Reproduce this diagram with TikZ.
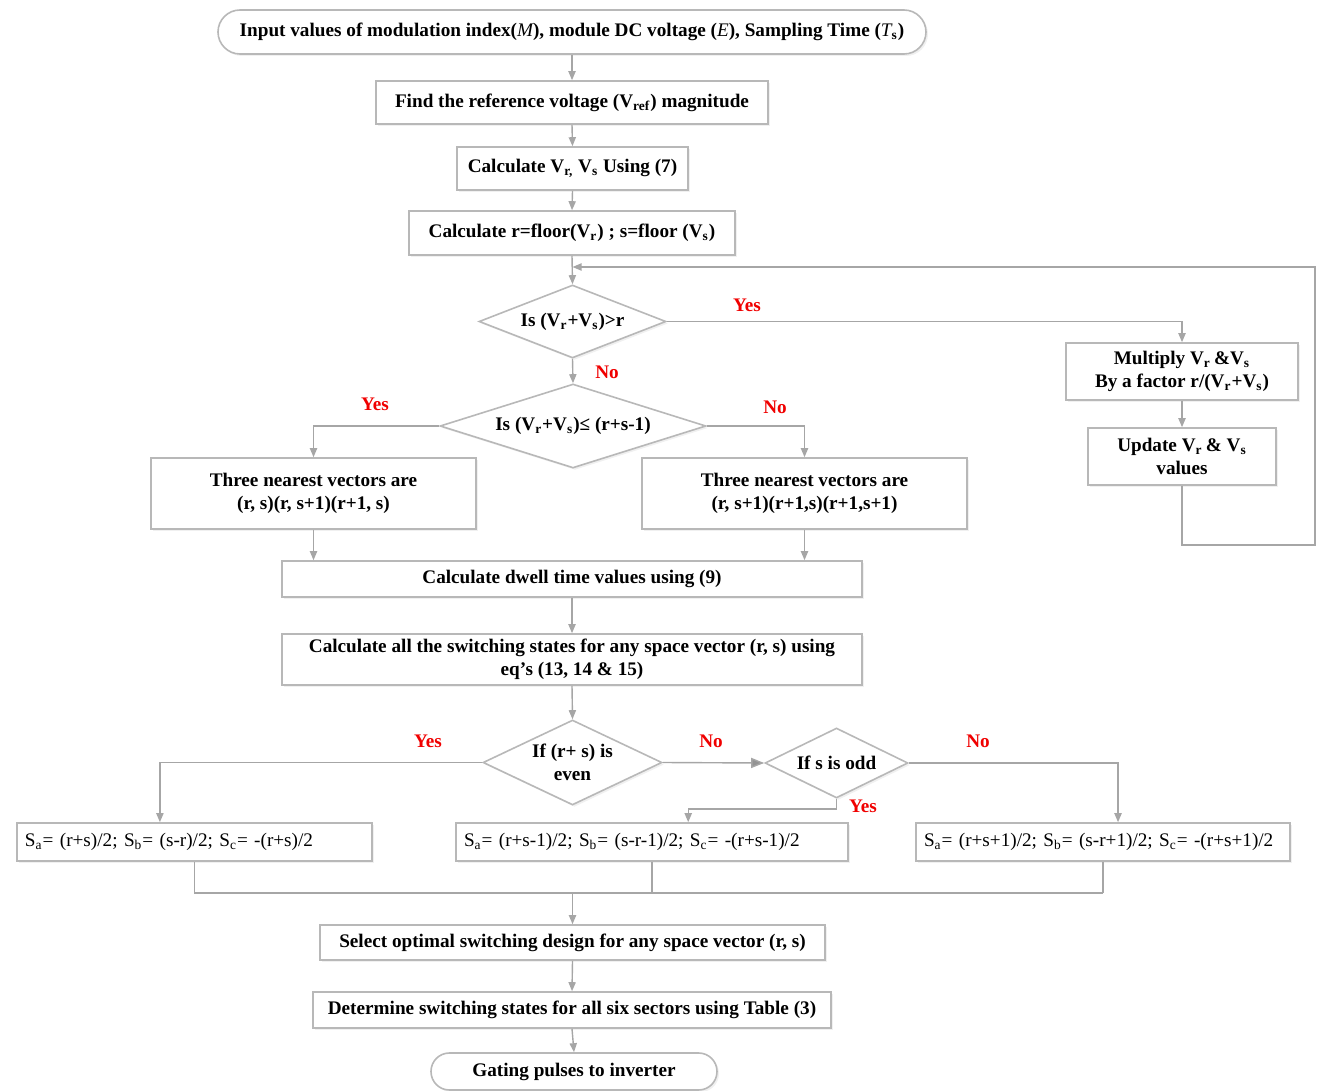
\documentclass[tikz,border=0pt]{standalone}
\usepackage{fontspec}
\setmainfont{Liberation Serif}
\usetikzlibrary{shapes.geometric,arrows.meta,calc,shadows}
\definecolor{lineg}{HTML}{A6A6A6}
\definecolor{boxg}{HTML}{B8B8B8}
\definecolor{lblred}{HTML}{F00000}
\begin{document}
\begin{tikzpicture}[x=0.5pt,y=-0.5pt,
  txt/.style={font=\fontsize{9.6}{11.5}\selectfont\bfseries, text=black},
  shd/.style={drop shadow={opacity=0.12,shadow xshift=1pt,shadow yshift=-1pt}},
  procbox/.style={txt, draw=boxg, line width=0.8pt, fill=white, align=center, inner sep=0pt, shd},
  term/.style={procbox, rounded corners=#1},
  dec/.style={txt, draw=boxg, line width=0.8pt, fill=white, align=center, inner sep=0pt, diamond, shd},
  eqbox/.style={draw=boxg, line width=0.8pt, fill=white, align=left, inner xsep=4pt, inner ysep=0pt, shd,
     font=\fontsize{9.6}{11.5}\selectfont, text=black},
  ln/.style={draw=lineg, line width=0.7pt},
  arr/.style={-{Triangle[length=4.5pt,width=3.6pt,fill=lineg]}},
  bigarr/.style={-{Triangle[length=6.5pt,width=5pt,fill=gray!85]}},
  lbl/.style={font=\fontsize{9.6}{11.5}\selectfont\bfseries, text=lblred, inner sep=0pt}
]
\useasboundingbox (0,0) rectangle (1317,1091);

% nodes
\node[term=11pt, minimum width=354pt, minimum height=22pt] (start) at (572,32)
  {Input values of modulation index({\mdseries\itshape M}), module DC voltage ({\mdseries\itshape E}), Sampling Time ({\mdseries\itshape T}\textsubscript{s})};
\node[procbox, minimum width=196pt, minimum height=21.5pt] (b1) at (572,102.5)
  {Find the reference voltage (V\textsubscript{ref}) magnitude};
\node[procbox, minimum width=115.5pt, minimum height=21.5pt] (b2) at (572.5,168.5)
  {Calculate V\textsubscript{r,} V\textsubscript{s} Using (7)};
\node[procbox, minimum width=163pt, minimum height=22pt] (b3) at (572,233)
  {Calculate r=floor(V\textsubscript{r}) ; s=floor (V\textsubscript{s})};
\node[dec, minimum width=93.5pt, minimum height=36.5pt, aspect=2.56] (d1) at (572.5,321.5)
  {Is (V\textsubscript{r}+V\textsubscript{s})>r};
\node[procbox, minimum width=116pt, minimum height=28.5pt] (mult) at (1182,371.5)
  {Multiply V\textsubscript{r}\,\&V\textsubscript{s}\\By a factor r/(V\textsubscript{r}+V\textsubscript{s})};
\node[procbox, minimum width=94pt, minimum height=28.5pt] (upd) at (1182,456.5)
  {Update V\textsubscript{r}\,\& V\textsubscript{s}\\values};
\node[dec, minimum width=133pt, minimum height=42pt, aspect=3.17] (d2) at (573,426)
  {Is (V\textsubscript{r}+V\textsubscript{s})≤ (r+s-1)};
\node[procbox, minimum width=162.5pt, minimum height=35.5pt] (lbox) at (313.5,493.5)
  {Three nearest vectors are\\(r, s)(r, s+1)(r+1, s)};
\node[procbox, minimum width=162.5pt, minimum height=35.5pt] (rbox) at (804.5,493.5)
  {Three nearest vectors are\\(r, s+1)(r+1,s)(r+1,s+1)};
\node[procbox, minimum width=290pt, minimum height=18pt] (dwell) at (572,579)
  {Calculate dwell time values using (9)};
\node[procbox, minimum width=290pt, minimum height=25.5pt] (states) at (572,659.5)
  {Calculate all the switching states for any space vector (r, s) using\\eq’s (13, 14 \& 15)};
\node[dec, minimum width=89.5pt, minimum height=42.5pt, aspect=2.1] (d3) at (572.5,762.5)
  {If (r+ s) is\\even};
\node[dec, minimum width=71.5pt, minimum height=35pt, aspect=2.04] (d4) at (836.5,763)
  {If s is odd};
\node[eqbox, text width=169.5pt, minimum height=19pt] (sa1) at (194.5,842)
  {S\textsubscript{a}= (r+s)/2; S\textsubscript{b}= (s-r)/2; S\textsubscript{c}= -(r+s)/2};
\node[eqbox, text width=188pt, minimum height=19pt] (sa2) at (652,842)
  {S\textsubscript{a}= (r+s-1)/2; S\textsubscript{b}= (s-r-1)/2; S\textsubscript{c}= -(r+s-1)/2};
\node[eqbox, text width=179pt, minimum height=19pt] (sa3) at (1103,842)
  {S\textsubscript{a}= (r+s+1)/2; S\textsubscript{b}= (s-r+1)/2; S\textsubscript{c}= -(r+s+1)/2};
\node[procbox, minimum width=252.5pt, minimum height=17.5pt] (sel) at (572.5,942.5)
  {Select optimal switching design for any space vector (r, s)};
\node[procbox, minimum width=259pt, minimum height=18pt] (det) at (572,1010)
  {Determine switching states for all six sectors using Table (3)};
\node[term=9.2pt, minimum width=143pt, minimum height=18.5pt] (gate) at (574,1071.5)
  {Gating pulses to inverter};

% labels
\node[lbl] (yes1) at (747,305) {Yes};
\node[lbl] (no1) at (607,372) {No};
\node[lbl] (yes2) at (375,404) {Yes};
\node[lbl] (no2) at (775,407) {No};
\node[lbl] (yes3) at (428,741) {Yes};
\node[lbl] (no3) at (711,741) {No};
\node[lbl] (no4) at (978,741) {No};
\node[lbl] (yes4) at (863,806) {Yes};

% coordinates
\coordinate (lpA) at (1315,545);
\coordinate (lpB) at (1315,267);
\coordinate (lpJ) at (572.5,267);
\coordinate (mR) at (1103,893);
\coordinate (mM) at (572.5,893);

% connectors
\draw[ln,arr] (start.south) -- (b1.north);
\draw[ln,arr] (b1.south) -- (b2.north);
\draw[ln,arr] (b2.south) -- (b3.north);
\draw[ln,arr] (b3.south) -- (d1.north);
\draw[ln,arr] (d1.east) -| (mult.north);
\draw[ln,arr] (mult.south) -- (upd.north);
\draw[ln,arr] (upd.south) |- (lpA) -- (lpB) -- (lpJ);
\draw[ln,arr] (d1.south) -- (d2.north);
\draw[ln,arr] (d2.west) -| (lbox.north);
\draw[ln,arr] (d2.east) -| (rbox.north);
\draw[ln,arr] (lbox.south) -- (lbox.south |- dwell.north);
\draw[ln,arr] (rbox.south) -- (rbox.south |- dwell.north);
\draw[ln,arr] (dwell.south) -- (states.north);
\draw[ln,arr] (states.south) -- (d3.north);
\draw[ln,arr] (d3.west) -| ($(sa1.north west)!0.403!(sa1.north east)$);
\draw[ln,bigarr] (d3.east) -- (d4.west);
\draw[ln,arr] (d4.east) -| ($(sa3.north west)!0.54!(sa3.north east)$);
\draw[ln,arr] (d4.south) -- ++(0,10) -| ($(sa2.north west)!0.592!(sa2.north east)$);
\draw[ln] (sa1.south) |- (mR);
\draw[ln] (sa3.south) -- (mR);
\draw[ln] (sa2.south) -- (sa2.south |- mM);
\draw[ln,arr] (mM) -- (sel.north);
\draw[ln,arr] (sel.south) -- (det.north);
\draw[ln,arr] (det.south) -- (gate.north);
\end{tikzpicture}
\end{document}
